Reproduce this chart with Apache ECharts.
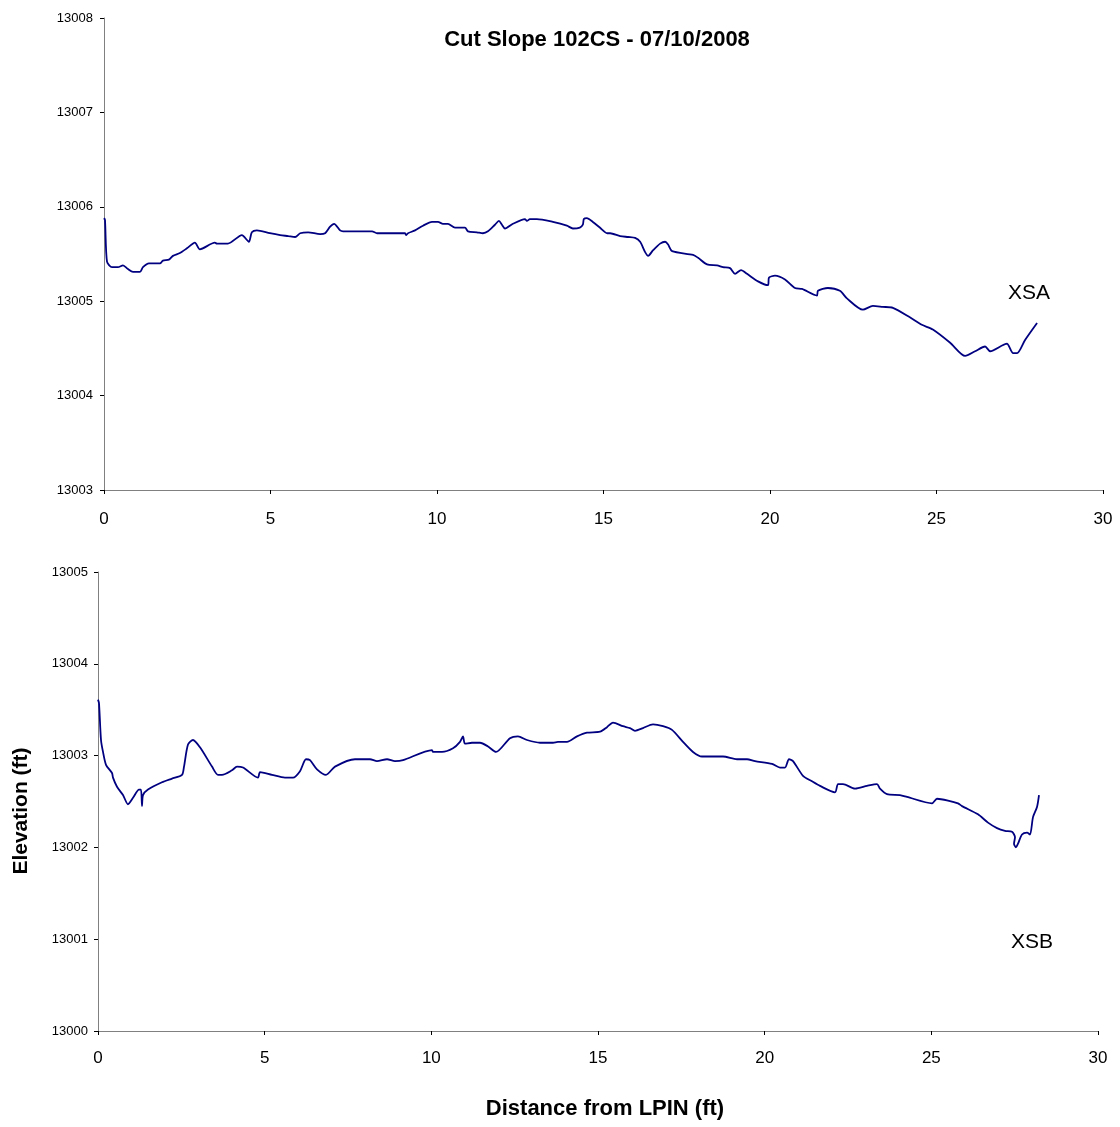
<!DOCTYPE html>
<html>
<head>
<meta charset="utf-8">
<script src="https://cdn.jsdelivr.net/npm/echarts@6/dist/echarts.min.js"></script>
<style>
html,body{margin:0;padding:0;background:#fff;}
#chart{width:1120px;height:1127px;}
</style>
</head>
<body>
<div id="chart"></div>
<script>
var titleText = "Cut Slope 102CS - 07/10/2008";
var xAxisTitle = "Distance from LPIN (ft)";
var yAxisTitle = "Elevation (ft)";
var labelA = "XSA";
var labelB = "XSB";

var xsaData = [
[0, 13005.88],[0.03, 13005.86],[0.09, 13005.42],[0.24, 13005.36],[0.42, 13005.36],
[0.57, 13005.38],[0.72, 13005.34],[0.87, 13005.31],[1.08, 13005.31],[1.17, 13005.36],
[1.35, 13005.40],[1.68, 13005.40],[1.77, 13005.43],[1.95, 13005.44],[2.07, 13005.48],
[2.28, 13005.51],[2.49, 13005.56],[2.73, 13005.62],[2.88, 13005.55],[3.33, 13005.62],
[3.39, 13005.61],[3.72, 13005.61],[4.14, 13005.70],[4.35, 13005.63],[4.44, 13005.73],
[4.59, 13005.75],[4.98, 13005.72],[5.29, 13005.70],[5.53, 13005.69],[5.74, 13005.68],
[5.89, 13005.72],[6.13, 13005.73],[6.49, 13005.71],[6.64, 13005.72],[6.79, 13005.79],
[6.91, 13005.82],[7.09, 13005.75],[7.18, 13005.74],[8.05, 13005.74],[8.20, 13005.72],
[9.04, 13005.72],[9.07, 13005.70],[9.13, 13005.72],[9.34, 13005.75],[9.58, 13005.80],
[9.85, 13005.84],[10.03, 13005.84],[10.18, 13005.82],[10.33, 13005.82],[10.54, 13005.78],
[10.84, 13005.78],[10.93, 13005.74],[11.20, 13005.73],[11.38, 13005.72],[11.53, 13005.74],
[11.74, 13005.81],[11.86, 13005.85],[11.95, 13005.81],[12.04, 13005.77],[12.28, 13005.82],
[12.64, 13005.87],[12.70, 13005.85],[12.79, 13005.87],[13.00, 13005.87],[13.48, 13005.84],
[13.90, 13005.80],[14.08, 13005.77],[14.29, 13005.78],[14.38, 13005.81],[14.41, 13005.87],
[14.50, 13005.88],[14.68, 13005.84],[14.89, 13005.78],[15.11, 13005.72],[15.20, 13005.72],
[15.50, 13005.69],[15.74, 13005.68],[15.95, 13005.67],[16.10, 13005.63],[16.25, 13005.52],
[16.34, 13005.48],[16.49, 13005.54],[16.70, 13005.61],[16.85, 13005.63],[16.94, 13005.60],
[17.06, 13005.53],[17.69, 13005.49],[17.84, 13005.46],[18.11, 13005.39],[18.41, 13005.38],
[18.59, 13005.36],[18.80, 13005.35],[18.95, 13005.29],[19.13, 13005.33],[19.31, 13005.29],
[19.64, 13005.21],[19.94, 13005.17],[19.97, 13005.25],[20.15, 13005.27],[20.45, 13005.23],
[20.75, 13005.14],[20.96, 13005.13],[21.41, 13005.06],[21.44, 13005.11],[21.74, 13005.14],
[22.10, 13005.11],[22.31, 13005.03],[22.79, 13004.91],[23.09, 13004.95],[23.39, 13004.94],
[23.69, 13004.93],[24.20, 13004.83],[24.56, 13004.75],[24.89, 13004.70],[25.41, 13004.56],
[25.86, 13004.42],[26.16, 13004.47],[26.46, 13004.52],[26.61, 13004.47],[27.12, 13004.55],
[27.18, 13004.52],[27.30, 13004.45],[27.42, 13004.45],[27.66, 13004.59],[28.02, 13004.77]
];

var xsbData = [
[0, 13003.61],[0.03, 13003.57],[0.09, 13003.17],[0.15, 13003.04],[0.24, 13002.90],
[0.42, 13002.81],[0.45, 13002.76],[0.57, 13002.66],[0.75, 13002.57],[0.90, 13002.47],
[1.05, 13002.54],[1.23, 13002.63],[1.29, 13002.63],[1.32, 13002.45],[1.35, 13002.57],
[1.50, 13002.63],[1.92, 13002.71],[2.22, 13002.75],[2.52, 13002.79],[2.58, 13002.88],
[2.70, 13003.12],[2.85, 13003.17],[3.06, 13003.09],[3.42, 13002.88],[3.60, 13002.79],
[3.72, 13002.79],[4.02, 13002.84],[4.17, 13002.88],[4.35, 13002.87],[4.80, 13002.76],
[4.86, 13002.82],[5.22, 13002.79],[5.61, 13002.76],[5.85, 13002.76],[6.06, 13002.83],
[6.24, 13002.96],[6.36, 13002.95],[6.57, 13002.85],[6.84, 13002.79],[7.11, 13002.88],
[7.71, 13002.96],[8.16, 13002.96],[8.37, 13002.94],[8.67, 13002.96],[8.91, 13002.94],
[9.15, 13002.95],[10.02, 13003.06],[10.05, 13003.04],[10.32, 13003.04],[10.65, 13003.08],
[10.86, 13003.15],[10.95, 13003.21],[11.01, 13003.13],[11.22, 13003.14],[11.46, 13003.14],
[11.70, 13003.10],[11.94, 13003.04],[12.36, 13003.19],[12.60, 13003.21],[12.87, 13003.17],
[13.26, 13003.14],[13.65, 13003.14],[13.80, 13003.15],[14.07, 13003.15],[14.37, 13003.21],
[14.67, 13003.25],[15.06, 13003.26],[15.27, 13003.31],[15.45, 13003.36],[15.75, 13003.32],
[15.96, 13003.30],[16.11, 13003.27],[16.35, 13003.30],[16.65, 13003.34],[16.95, 13003.32],
[17.22, 13003.28],[17.55, 13003.15],[17.85, 13003.04],[18.12, 13002.99],[18.75, 13002.99],
[19.17, 13002.96],[19.47, 13002.96],[19.71, 13002.94],[20.22, 13002.91],[20.46, 13002.87],
[20.61, 13002.87],[20.73, 13002.96],[20.85, 13002.94],[21.15, 13002.78],[21.42, 13002.72],
[21.66, 13002.67],[22.11, 13002.60],[22.20, 13002.69],[22.35, 13002.69],[22.71, 13002.64],
[23.07, 13002.67],[23.37, 13002.69],[23.46, 13002.64],[23.67, 13002.58],[24.06, 13002.57],
[24.27, 13002.55],[25.02, 13002.48],[25.17, 13002.53],[25.50, 13002.51],[25.80, 13002.48],
[25.92, 13002.45],[26.40, 13002.36],[26.70, 13002.27],[26.97, 13002.21],[27.21, 13002.18],
[27.42, 13002.17],[27.51, 13002.11],[27.48, 13002.04],[27.54, 13002.00],[27.60, 13002.04],
[27.72, 13002.14],[27.87, 13002.16],[27.96, 13002.14],[28.05, 13002.33],[28.17, 13002.44],
[28.23, 13002.57]
];

var xRange = [0, 30, 5];
var yRangeA = [13003, 13008, 1];
var yRangeB = [13000, 13005, 1];

var FONT = 'Liberation Sans, Arial, sans-serif';
var axisColor = '#808080';
var lineColor = '#000080';

function xAxisCfg(idx, margin) {
  return {
    type: 'value', gridIndex: idx, min: xRange[0], max: xRange[1], interval: xRange[2],
    axisLine: {show: true, onZero: false, lineStyle: {color: axisColor, width: 1}},
    axisTick: {show: true, inside: false, length: 4, lineStyle: {color: '#000'}},
    axisLabel: {color: '#000', fontSize: 17, fontFamily: FONT, margin: margin},
    splitLine: {show: false}
  };
}
function yAxisCfg(idx, r, margin) {
  return {
    type: 'value', gridIndex: idx, min: r[0], max: r[1], interval: r[2],
    axisLine: {show: true, onZero: false, lineStyle: {color: axisColor, width: 1}},
    axisTick: {show: true, inside: false, length: 4, lineStyle: {color: '#000'}},
    axisLabel: {color: '#000', fontSize: 13, fontFamily: FONT, margin: margin,
      formatter: function (v) { return String(v); }},
    splitLine: {show: false}
  };
}

var chart = echarts.init(document.getElementById('chart'), null, {renderer: 'canvas'});
chart.setOption({
  backgroundColor: '#fff',
  animation: false,
  grid: [
    {left: 104, right: 17, top: 18, height: 472},
    {left: 98, right: 22, top: 572, height: 459}
  ],
  xAxis: [xAxisCfg(0, 21), xAxisCfg(1, 19)],
  yAxis: [yAxisCfg(0, yRangeA, 11), yAxisCfg(1, yRangeB, 10)],
  series: [
    {type: 'line', xAxisIndex: 0, yAxisIndex: 0, data: xsaData, showSymbol: false, symbol: 'none',
     lineStyle: {color: lineColor, width: 1.8}, smooth: 0.25},
    {type: 'line', xAxisIndex: 1, yAxisIndex: 1, data: xsbData, showSymbol: false, symbol: 'none',
     lineStyle: {color: lineColor, width: 1.8}, smooth: 0.25}
  ],
  graphic: [
    {type: 'text', x: 597, y: 40, style: {text: titleText, font: 'bold 22px ' + FONT, fill: '#000', align: 'center', verticalAlign: 'middle'}},
    {type: 'text', x: 605, y: 1109, style: {text: xAxisTitle, font: 'bold 22px ' + FONT, fill: '#000', align: 'center', verticalAlign: 'middle'}},
    {type: 'text', x: 21, y: 811, rotation: Math.PI / 2, style: {text: yAxisTitle, font: 'bold 21px ' + FONT, fill: '#000', align: 'center', verticalAlign: 'middle'}},
    {type: 'text', x: 1029, y: 293, style: {text: labelA, font: '21px ' + FONT, fill: '#000', align: 'center', verticalAlign: 'middle'}},
    {type: 'text', x: 1032, y: 942, style: {text: labelB, font: '21px ' + FONT, fill: '#000', align: 'center', verticalAlign: 'middle'}}
  ]
});
</script>
</body>
</html>
